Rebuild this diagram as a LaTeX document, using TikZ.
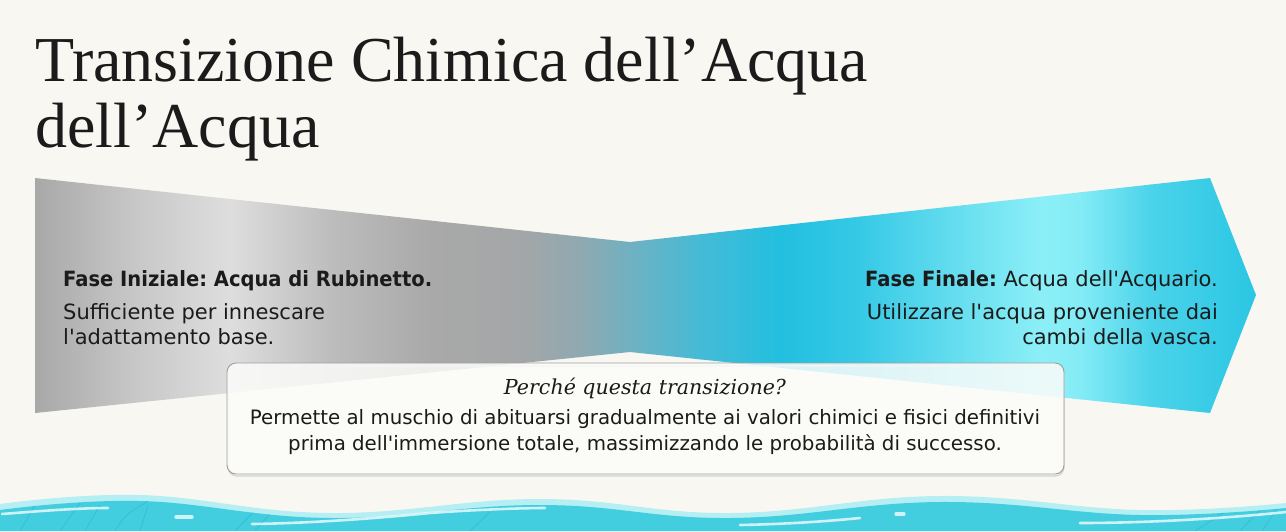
\documentclass[tikz,border=0pt]{standalone}
\usepackage{fontspec}
\usepackage{graphicx}
\newfontfamily\sansf[Ligatures=TeXOff]{DejaVu Sans}
\newfontfamily\titlef{Liberation Serif}
\newfontfamily\qf{DejaVu Serif}
\definecolor{bg}{HTML}{F8F7F2}
\definecolor{ink}{HTML}{1B1B1B}
\definecolor{s1}{HTML}{A8A8A8}
\definecolor{s2}{HTML}{C6C6C6}
\definecolor{s3}{HTML}{DEDEDE}
\definecolor{s4}{HTML}{BDBDBD}
\definecolor{s5}{HTML}{A9A9A9}
\definecolor{s6}{HTML}{A4A6A7}
\definecolor{s7}{HTML}{8FA9B1}
\definecolor{s8}{HTML}{6AB2C4}
\definecolor{s9}{HTML}{45BBD6}
\definecolor{s10}{HTML}{22BFE0}
\definecolor{s11}{HTML}{36C9E6}
\definecolor{s12}{HTML}{62DCEE}
\definecolor{s13}{HTML}{8CEFF7}
\definecolor{s14}{HTML}{84ECF6}
\definecolor{s15}{HTML}{4BD3EA}
\definecolor{s16}{HTML}{2AC6E3}
\definecolor{waveband}{HTML}{B5EFF4}
\definecolor{wavebody}{HTML}{43CEE0}
\definecolor{wavedark}{HTML}{2FB9D3}
\definecolor{boxline}{HTML}{9E9E9E}
\newcommand{\narrowbold}[1]{\scalebox{0.93}[1]{\bfseries #1}}
\tikzset{
  titletext/.style={anchor=base west, inner sep=0pt, text=ink, font=\titlef\fontsize{64}{70}\selectfont},
  phasetext/.style={inner sep=0pt, text=ink, font=\sansf\fontsize{21}{26}\selectfont},
  bodytext/.style={inner sep=0pt, text=ink, align=center, font=\sansf\fontsize{19.8}{26}\selectfont},
  qtext/.style={inner sep=0pt, text=ink, font=\qf\itshape\fontsize{20.6}{24}\selectfont},
  infobox/.style={draw=boxline, line width=0.9pt, rounded corners=9pt, fill=white!60!bg, fill opacity=0.85, minimum width=837pt, minimum height=111pt, inner sep=0pt},
  streak/.style={white, line width=2.6pt, line cap=round, opacity=0.75},
  weed/.style={wavedark, line width=1pt, opacity=0.6}
}
\begin{document}
\frenchspacing
\begin{tikzpicture}[x=1pt,y=-1pt]
\fill[bg] (0,0) rectangle (1286,531);
\useasboundingbox (0,0) rectangle (1286,531);

% title
\node[titletext] (title1) at (35,81) {Transizione Chimica dell’Acqua};
\node[titletext] (title2) at (35,147) {dell’Acqua};

% funnel / arrow shape with gradient
\begin{scope}
\clip (35,178) -- (630,242) -- (1210,178) -- (1256,295) -- (1210,413) -- (630,352) -- (35,413) -- cycle;
\foreach \xa/\ca/\xb/\cb in {35/s1/130/s2, 130/s2/230/s3, 230/s3/330/s4, 330/s4/430/s5, 430/s5/520/s6, 520/s6/580/s7, 580/s7/640/s8, 640/s8/700/s9, 700/s9/780/s10, 780/s10/860/s11, 860/s11/950/s12, 950/s12/1040/s13, 1040/s13/1080/s14, 1080/s14/1150/s15, 1150/s15/1257/s16}
  \shade[left color=\ca, right color=\cb] (\xa-0.6,170) rectangle (\xb+0.6,420);
\end{scope}

% phase texts
\node[phasetext, anchor=base west] (iniT) at (63,286) {\narrowbold{Fase Iniziale: Acqua di Rubinetto.}};
\node[phasetext, anchor=base west] (iniA) at (63,319) {Sufficiente per innescare};
\node[phasetext, anchor=base west] (iniB) at (63,344) {l'adattamento base.};
\node[phasetext, anchor=base east] (finT) at (1218,286) {\narrowbold{Fase Finale:} Acqua dell'Acquario.};
\node[phasetext, anchor=base east] (finA) at (1218,319) {Utilizzare l'acqua proveniente dai};
\node[phasetext, anchor=base east] (finB) at (1218,344) {cambi della vasca.};

% info box
\draw[gray!35, line width=1.2pt, rounded corners=9pt] (228,366) rectangle (1064,476);
\node[infobox] (box) at (645.5,418.5) {};
\node[qtext, anchor=base] (why) at (645,394) {Perché questa transizione?};
\node[bodytext, anchor=base] (body1) at (645,424) {Permette al muschio di abituarsi gradualmente ai valori chimici e fisici definitivi};
\node[bodytext, anchor=base] (body2) at (645,450) {prima dell'immersione totale, massimizzando le probabilità di successo.};

% waves
\fill[waveband] plot[smooth, tension=0.7] coordinates {(0,504) (140,495) (330,513) (540,499) (730,513) (940,496) (1140,510) (1286,503)} -- (1286,531) -- (0,531) -- cycle;
\fill[wavebody] plot[smooth, tension=0.7] coordinates {(0,510) (140,501) (330,518) (540,505) (730,518) (940,502) (1140,515) (1286,508)} -- (1286,531) -- (0,531) -- cycle;
\begin{scope}
\clip plot[smooth, tension=0.7] coordinates {(0,510) (140,501) (330,518) (540,505) (730,518) (940,502) (1140,515) (1286,508)} -- (1286,531) -- (0,531) -- cycle;
\draw[weed] (20,531) -- (35,505);
\draw[weed] (60,531) -- (80,503);
\draw[weed] (85,531) -- (100,505);
\draw[weed] (115,531) .. controls (125,515) .. (150,500);
\draw[weed] (140,531) -- (148,505);
\draw[weed] (235,531) -- (260,505);
\draw[weed] (255,531) -- (275,508);
\draw[weed] (470,531) -- (490,512);
\draw[weed] (1240,531) -- (1262,508);
\draw[weed] (1262,531) -- (1278,507);
\draw[weed] (1195,531) -- (1225,512);
\end{scope}
\draw[streak] (2,514) .. controls (40,511) and (80,508) .. (108,508);
\draw[streak, line width=3.5pt] (176,517) -- (192,517);
\draw[streak] (252,524) .. controls (320,523) and (390,517) .. (430,513) .. controls (470,510) and (520,508) .. (545,508);
\draw[streak] (740,525) .. controls (790,524) and (830,521) .. (860,518);
\draw[streak, line width=3.2pt] (896,514) -- (904,514);
\draw[streak] (1080,523) .. controls (1150,523) and (1230,518) .. (1286,512);
\end{tikzpicture}
\end{document}
